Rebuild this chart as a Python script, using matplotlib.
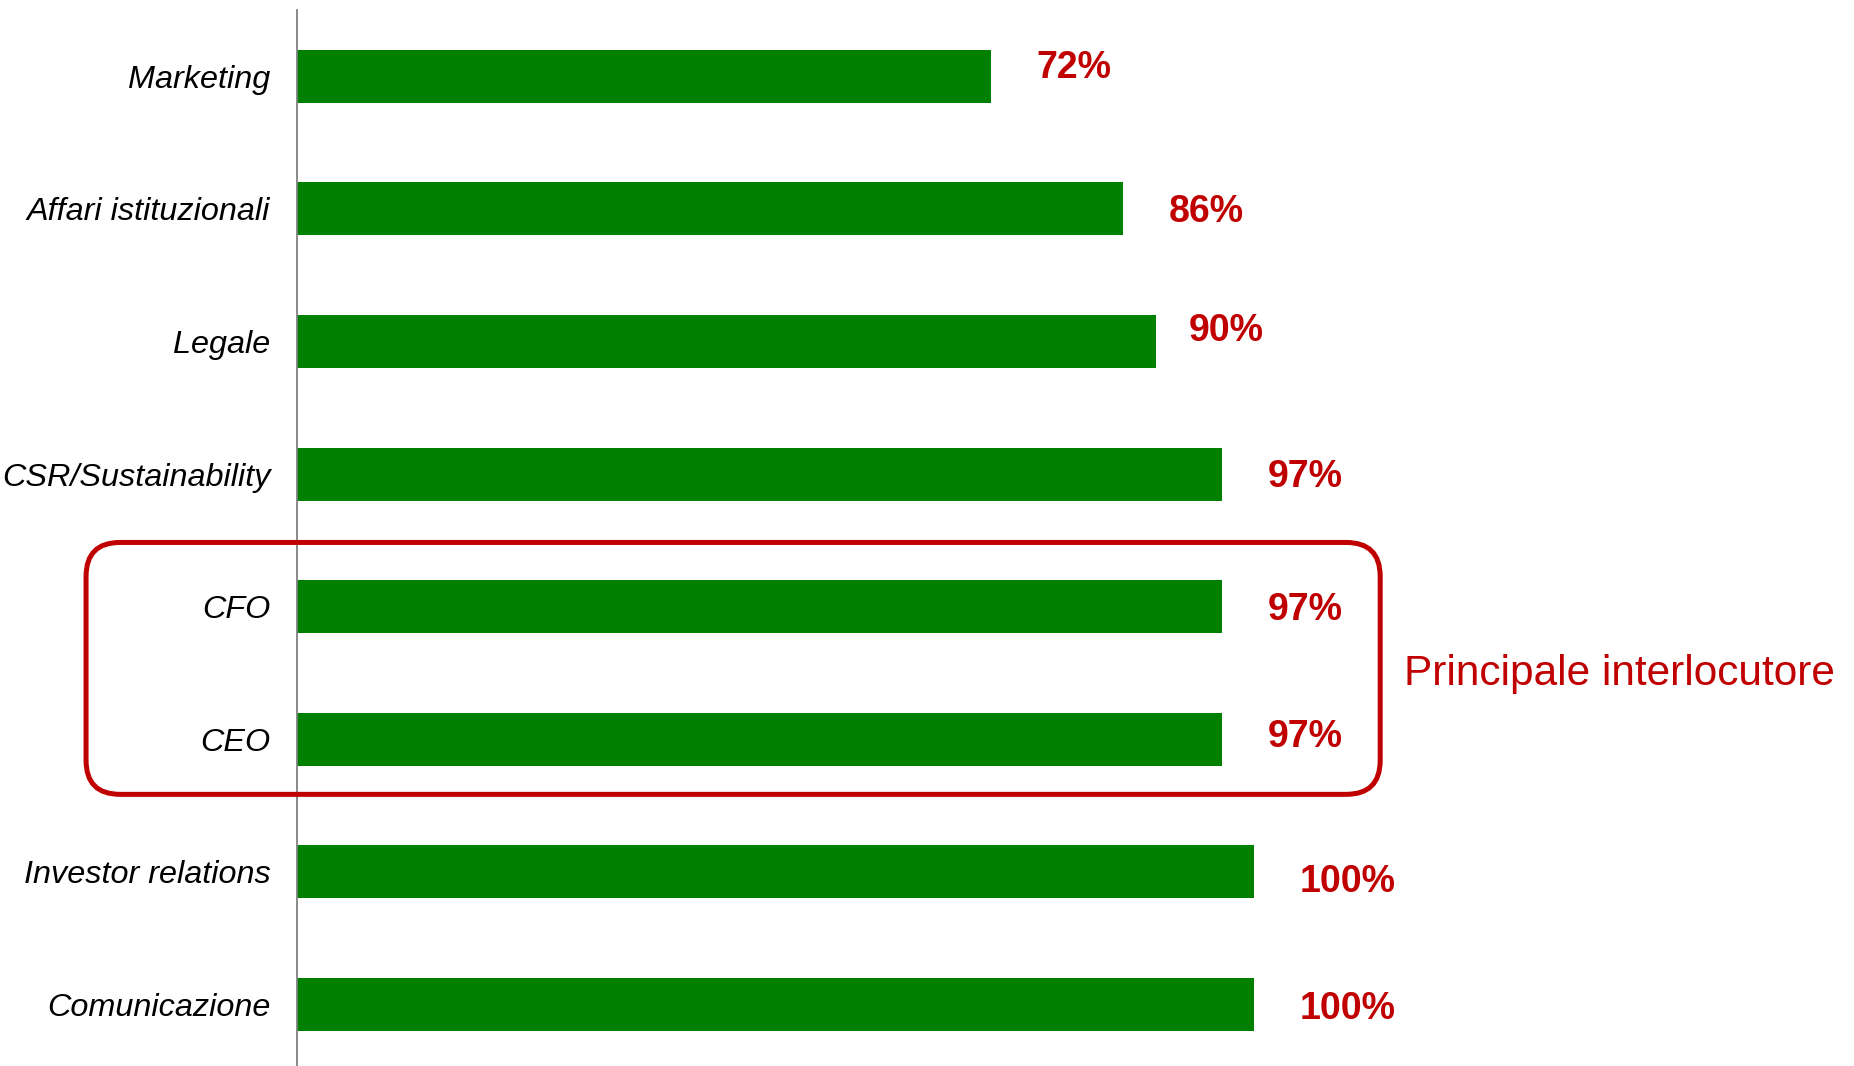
import numpy as np
import matplotlib
matplotlib.use("Agg")
import matplotlib.pyplot as plt
from matplotlib.patches import FancyBboxPatch
from matplotlib.transforms import IdentityTransform

plt.rcParams['font.family'] = ['Liberation Sans', 'DejaVu Sans']

# data, top to bottom
categories = ['Marketing', 'Affari istituzionali', 'Legale', 'CSR/Sustainability',
              'CFO', 'CEO', 'Investor relations', 'Comunicazione']
values = [72.5, 86.3, 89.8, 96.7, 96.7, 96.7, 100, 100]
value_labels = ['72%', '86%', '90%', '97%', '97%', '97%', '100%', '100%']
highlight = ['CFO', 'CEO']
highlight_text = 'Principale interlocutore'

# small nudges of the value labels (x in data units, y in category units)
label_dx = [4.8, 4.8, 3.4, 4.8, 4.8, 4.8, 4.8, 4.8]
label_dy = [-0.06, 0.025, -0.082, 0.025, 0.025, -0.02, 0.079, 0.038]

GREEN = '#008000'
RED = '#C00000'

fig = plt.figure(figsize=(18.54, 10.66), dpi=100)
ax = fig.add_axes([0.160, 0.0, 0.840, 0.9906])

y = np.arange(len(categories))
ax.barh(y, values, height=0.40, color=GREEN, edgecolor='none')

ax.set_xlim(0, 162.7)
ax.set_ylim(7.465, -0.5)
ax.set_yticks(y)
ax.set_yticklabels(categories, fontsize=23.3, style='italic')
ax.tick_params(axis='y', length=0, pad=19)
ax.set_xticks([])
for side in ['top', 'right', 'bottom']:
    ax.spines[side].set_visible(False)
ax.spines['left'].set_color('#808080')
ax.spines['left'].set_linewidth(1.3)

for i, (v, lab) in enumerate(zip(values, value_labels)):
    ax.text(v + label_dx[i], i + label_dy[i], lab, color=RED, fontsize=27,
            fontweight='bold', ha='left', va='center')

# rounded box around the highlighted rows
i0 = categories.index(highlight[0])
i1 = categories.index(highlight[-1])
x0, y0 = ax.transData.transform((-22.0, i1 + 0.416))
x1, y1 = ax.transData.transform((113.2, i0 - 0.484))
box = FancyBboxPatch((x0, y0), x1 - x0, y1 - y0,
                     boxstyle='round,pad=0,rounding_size=34',
                     transform=IdentityTransform(), fill=False,
                     edgecolor=RED, linewidth=3.6, clip_on=False)
fig.add_artist(box)

ax.text(1404 / 1854, 1 - 674 / 1066, highlight_text, transform=fig.transFigure,
        color=RED, fontsize=30.5, ha='left', va='center')

fig.savefig('out.png', dpi=100)
